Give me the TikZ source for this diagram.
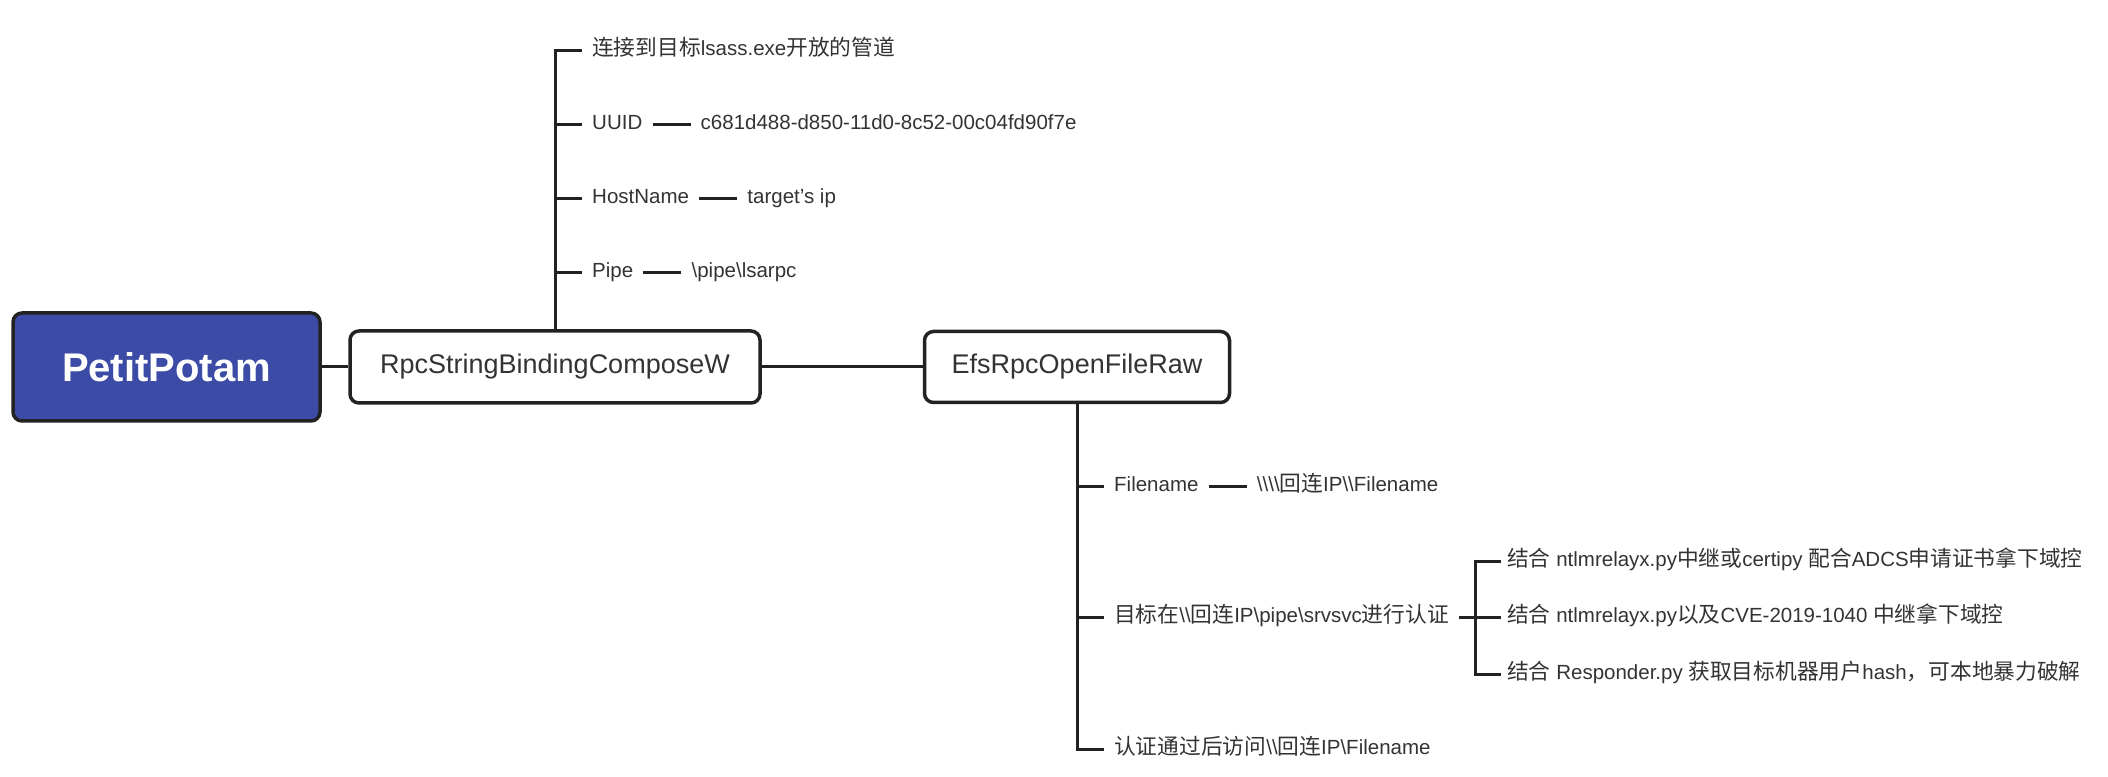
\documentclass[tikz,border=0pt]{standalone}
\usepackage{fontspec}
\setmainfont{Liberation Sans}
\newfontfamily\cjk[Scale=1.06]{Noto Sans CJK SC}
\newcommand{\zh}[1]{{\cjk #1}}
\newcommand{\bsl}{\textbackslash}
\definecolor{petit}{HTML}{3B4BA6}
\definecolor{ink}{HTML}{222222}
\definecolor{txt}{HTML}{333333}
\begin{document}
\begin{tikzpicture}[x=1pt,y=1pt,
  conn/.style={draw=ink, line width=3pt},
  box/.style={draw=ink, line width=3.5pt, rounded corners=9pt, fill=white, text=txt, font=\fontsize{27}{32}\selectfont},
  leaf/.style={anchor=west, inner xsep=10pt, inner ysep=2pt, text=txt, text height=1em, text depth=0em, font=\fontsize{20.5}{24}\selectfont},
]
\useasboundingbox (0,0) rectangle (2108,776);

% main boxes
\node[box, fill=petit, text=white, minimum width=307pt, minimum height=108pt, font=\bfseries\fontsize{40}{46}\selectfont] (pp) at (166.5,409) {PetitPotam};
\node[box, minimum width=410pt, minimum height=72pt] (rpc) at (555,409) {RpcStringBindingComposeW};
\node[box, minimum width=305pt, minimum height=71pt] (efs) at (1077,409) {EfsRpcOpenFileRaw};
\draw[conn] (pp.east) -- (rpc.west);
\draw[conn] (rpc.east) -- (efs.west);

% upper branch
\node[leaf] (k0) at (582,725) {\zh{连接到目标}lsass.exe\zh{开放的管道}};
\node[leaf] (k1) at (582,651) {UUID};
\node[leaf] (k2) at (582,577) {HostName};
\node[leaf] (k3) at (582,503) {Pipe};
\node[leaf] (v1) at ([xshift=38pt]k1.east) {c681d488-d850-11d0-8c52-00c04fd90f7e};
\node[leaf] (v2) at ([xshift=38pt]k2.east) {target's ip};
\node[leaf] (v3) at ([xshift=38pt]k3.east) {\bsl pipe\bsl lsarpc};
\draw[conn] (rpc.north) |- (k0.west);
\draw[conn] (rpc.north) |- (k1.west);
\draw[conn] (rpc.north) |- (k2.west);
\draw[conn] (rpc.north) |- (k3.west);
\draw[conn] (k1.east) -- (v1.west);
\draw[conn] (k2.east) -- (v2.west);
\draw[conn] (k3.east) -- (v3.west);

% lower branch
\node[leaf] (f1) at (1104,289) {Filename};
\node[leaf] (fv) at ([xshift=38pt]f1.east) {\bsl\bsl\bsl\bsl\zh{回连}IP\bsl\bsl Filename};
\node[leaf] (t2) at (1104,158) {\zh{目标在}\bsl\bsl\zh{回连}IP\bsl pipe\bsl srvsvc\zh{进行认证}};
\node[leaf] (t3) at (1104,27) {\zh{认证通过后访问}\bsl\bsl\zh{回连}IP\bsl Filename};
\draw[conn] (efs.south) |- (f1.west);
\draw[conn] (efs.south) |- (t2.west);
\draw[conn] (efs.south) |- (t3.west);
\draw[conn] (f1.east) -- (fv.west);

\coordinate (j) at ([xshift=17pt]t2.east);
\node[leaf, inner xsep=6pt] (s1) at ([xshift=25pt, yshift=56pt]j) {\zh{结合} ntlmrelayx.py\zh{中继或}certipy \zh{配合}ADCS\zh{申请证书拿下域控}};
\node[leaf, inner xsep=6pt] (s2) at ([xshift=25pt]j) {\zh{结合} ntlmrelayx.py\zh{以及}CVE-2019-1040 \zh{中继拿下域控}};
\node[leaf, inner xsep=6pt] (s3) at ([xshift=25pt, yshift=-57pt]j) {\zh{结合} Responder.py \zh{获取目标机器用户}hash\zh{，可本地暴力破解}};
\draw[conn] (t2.east) -- (j);
\draw[conn] (j) |- (s1.west);
\draw[conn] (j) -- (s2.west);
\draw[conn] (j) |- (s3.west);
\end{tikzpicture}
\end{document}
